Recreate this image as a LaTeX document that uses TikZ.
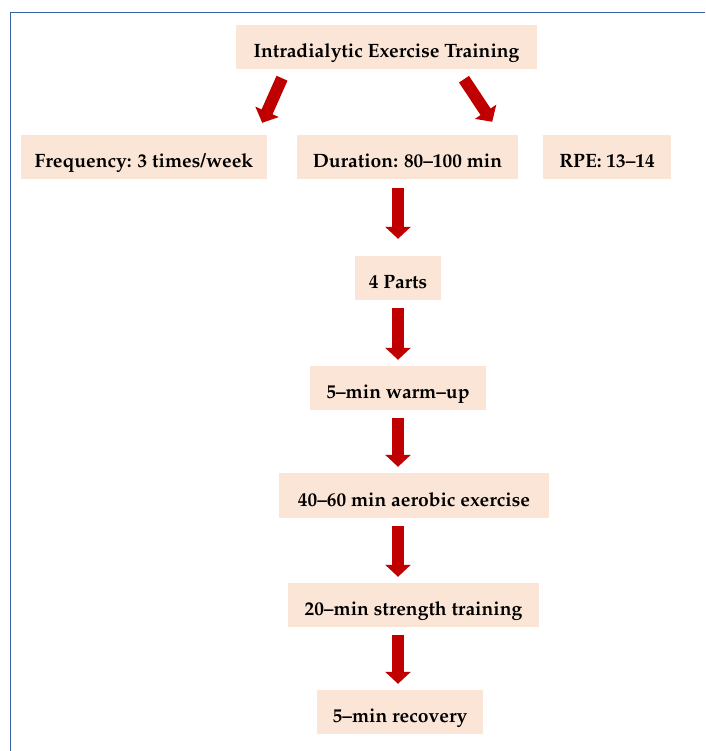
\documentclass[tikz,border=0pt]{standalone}
\usepackage[T1]{fontenc}
\usepackage{mathpazo}
\usetikzlibrary{arrows.meta, positioning}

\definecolor{boxfill}{HTML}{FBE5D6}
\definecolor{arrowred}{HTML}{C00000}
\definecolor{frameblue}{HTML}{3A5FA6}

\tikzset{
    stage/.style={fill=boxfill, minimum height=44pt, inner sep=0pt,
        text height=21pt, text depth=0pt,
        font=\fontsize{19.3}{23}\selectfont\bfseries},
    blockarrow/.style={arrowred, line width=12pt,
        -{Triangle[width=25pt, length=12pt]},
        shorten <=8pt, shorten >=6pt}
}

\begin{document}
\begin{tikzpicture}[x=1pt, y=-1pt]
\useasboundingbox (0,0) rectangle (705,751);
% frame
\draw[frameblue, line width=1.8pt] (10.5,751) |- (705,12.5);

% boxes
\node[stage, minimum width=301pt] (top) at (386.5,47) {Intradialytic Exercise Training};
\node[stage, minimum width=246pt] (freq) at (144,157) {Frequency: 3 times/week};
\node[stage, minimum width=221pt] (dur) at (407.5,157) {Duration: 80--100 min};
\node[stage, minimum width=128pt] (rpe) at (607,157) {RPE: 13--14};
\node[stage, minimum width=86pt] (parts) at (398,278) {4 Parts};
\node[stage, minimum width=176pt] (warm) at (398,388) {5--min warm--up};
\node[stage, minimum width=270pt, minimum height=45pt] (aero) at (414,495.5) {40--60 min aerobic exercise};
\node[stage, minimum width=251pt] (str) at (413.5,605) {20--min strength training};
\node[stage, minimum width=166pt] (rec) at (400,712) {5--min recovery};

% arrows
\draw[blockarrow, shorten <=0pt, shorten >=0pt] ([shift={(-104.5,9)}]top.south) -- ([shift={(-5,-12)}]freq.north east);
\draw[blockarrow, shorten <=0pt, shorten >=0pt] ([shift={(77.5,10)}]top.south) -- ([shift={(-26,-13)}]dur.north east);
\draw[blockarrow, shorten <=9pt, shorten >=17pt] (dur.south -| parts) -- (parts.north);
\draw[blockarrow] (parts.south) -- (warm.north);
\draw[blockarrow] (warm.south) -- (aero.north -| warm);
\draw[blockarrow] (aero.south -| warm) -- (str.north -| warm);
\draw[blockarrow] (str.south -| warm) -- (rec.north -| warm);
\end{tikzpicture}
\end{document}
